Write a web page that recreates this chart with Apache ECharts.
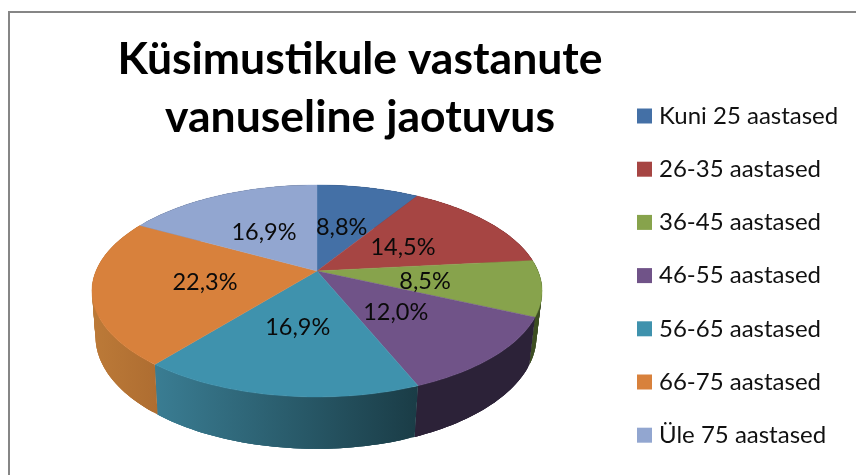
<!DOCTYPE html>
<html><head><meta charset="utf-8">
<style>html,body{margin:0;padding:0;background:#fff}#c{width:856px;height:475px}</style>
<script src="https://cdn.jsdelivr.net/npm/echarts@6/dist/echarts.min.js"></script>
</head><body><div id="c"></div>
<script>
const titleText = 'Küsimustikule vastanute\nvanuseline jaotuvus';
const categories = ['Kuni 25 aastased','26-35 aastased','36-45 aastased','46-55 aastased','56-65 aastased','66-75 aastased','Üle 75 aastased'];
const shares = [8.8,14.5,8.5,12.0,16.9,22.3,16.9];
const topColors = ['#4470A6','#A64543','#87A34C','#705388','#3F92AD','#D8813C','#92A6D0'];
const wallFrom = ['#2b4668','#682b2a','#3d4e22','#2c2238','#3A7D93','#BC7A38','#5c6882'];
const wallTo   = ['#2b4668','#682b2a','#3d4e22','#2c2238','#1A3C46','#AE6D31','#5c6882'];
const labelOffsets = [[24.7,-43.7],[86,-24],[108,10],[78.7,41.7],[-19.3,56.3],[-112,11.3],[-53,-38.7]];

// projection of the tilted disc
const cx = 317, cy = 271, rx = 221, ry = 102.2, persp = -0.1887, drop = 45.6, dropPersp = 0.02, dropShift = -1;
function project(angle, bottom) {
  const u = Math.sin(angle), v = -Math.cos(angle);
  const d = 1 + persp * v + (bottom ? dropPersp : 0);
  return [cx + rx * u / d + (bottom ? dropShift : 0), cy + (ry * v + (bottom ? drop : 0)) / d];
}
const total = shares.reduce((a, b) => a + b, 0);
function arc(a0, a1, bottom) {
  const n = Math.max(8, Math.ceil((a1 - a0) * 40));
  const pts = [];
  for (let i = 0; i <= n; i++) pts.push(project(a0 + (a1 - a0) * i / n, bottom));
  return pts;
}
function sliceRenderer(idx) {
  return function () {
    const before = shares.slice(0, idx).reduce((a, b) => a + b, 0);
    const a0 = before / total * 2 * Math.PI;
    const a1 = (before + shares[idx]) / total * 2 * Math.PI;
    const topArc = arc(a0, a1, false);
    const baseArc = arc(a0, a1, true);
    const xs = topArc.concat(baseArc).map(p => p[0]);
    const minX = Math.min.apply(null, xs), maxX = Math.max.apply(null, xs);
    const grad = new echarts.graphic.LinearGradient(minX, 0, maxX, 0, [
      { offset: 0, color: wallFrom[idx] }, { offset: 1, color: wallTo[idx] }], true);
    const children = [];
    const last = topArc.length - 1;
    for (let i = 0; i < last; i++) {
      const j = Math.min(i + 3, last);
      const pts = topArc.slice(i, j + 1).concat(baseArc.slice(i, j + 1).reverse());
      children.push({ type: 'polygon', z2: 1, shape: { points: pts }, style: { fill: grad } });
    }
    children.push({ type: 'polygon', z2: 10, shape: { points: [[cx, cy]].concat(topArc) },
      style: { fill: topColors[idx], stroke: topColors[idx], lineWidth: 0.4 } });
    children.push({ type: 'text', z2: 20, x: cx + labelOffsets[idx][0], y: cy + labelOffsets[idx][1],
      style: { text: shares[idx].toFixed(1).replace('.', ',') + '%', fill: '#0a0a0a',
        font: '23.5px Lato', align: 'center', verticalAlign: 'middle' } });
    return { type: 'group', silent: true, children };
  };
}
const chart = echarts.init(document.getElementById('c'), null, { renderer: 'canvas' });
chart.setOption({
  animation: false,
  backgroundColor: '#fff',
  title: { text: titleText, left: 355, top: 26, textAlign: 'center',
    textStyle: { fontFamily: 'Lato', fontWeight: 'bold', fontSize: 44.5, lineHeight: 58, color: '#000' } },
  legend: { orient: 'vertical', left: 632, top: 99, icon: 'rect', itemWidth: 15, itemHeight: 15,
    itemGap: 29.2, selectedMode: false, data: categories,
    textStyle: { fontFamily: 'Lato', fontSize: 24, lineHeight: 24, color: '#111', padding: [0, 0, 0, 2] } },
  graphic: [{ type: 'polyline', silent: true, z: -1,
    shape: { points: [[9, 480], [9, 12], [860, 12]] }, style: { stroke: '#868686', lineWidth: 2, fill: null } }],
  series: categories.map((name, i) => ({
    type: 'custom', name, coordinateSystem: 'none', silent: true,
    itemStyle: { color: topColors[i] }, data: [[shares[i]]], renderItem: sliceRenderer(i)
  }))
});
</script></body></html>
